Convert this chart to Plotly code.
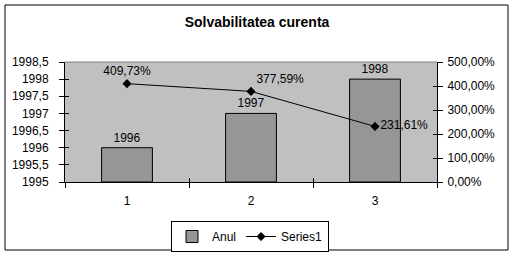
import plotly.graph_objects as go

categories = ["1", "2", "3"]
anul = [1996, 1997, 1998]
series1 = [4.0973, 3.7759, 2.3161]
left_ticks = [1995, 1995.5, 1996, 1996.5, 1997, 1997.5, 1998, 1998.5]
right_ticks = [0, 1, 2, 3, 4, 5]

W, H = 514, 255
L, R, T, B = 65, 437, 62, 182

font = "Liberation Sans, Arial, sans-serif"

fig = go.Figure()
fig.add_trace(go.Bar(
    x=categories, y=[a - 1995 for a in anul], base=1995, name="Anul",
    marker=dict(color="#969696", line=dict(color="black", width=1)),
    width=0.41, text=[str(a) for a in anul], textposition="outside",
    textfont=dict(color="black", size=12, family=font), cliponaxis=False,
))
fig.add_trace(go.Scatter(
    x=categories, y=series1, name="Series1", yaxis="y2",
    mode="lines+markers+text",
    line=dict(color="black", width=1),
    marker=dict(symbol="diamond", size=7, color="black"),
    texttemplate="%{y:.2%}", textposition=["top center", "top right", "middle right"],
    textfont=dict(color="black", size=12, family=font), cliponaxis=False,
))

pw, ph = R - L, B - T
def px(x):
    return (x - L) / pw
def py(y):
    return (B - y) / ph

fig.update_layout(
    width=W, height=H,
    margin=dict(l=L, r=W - R, t=T, b=H - B, autoexpand=False),
    paper_bgcolor="white", plot_bgcolor="#C0C0C0",
    separators=",.",
    font=dict(family=font, size=12, color="black"),
    title=dict(text="<b>Solvabilitatea curenta</b>", x=0.5, xanchor="center",
               y=1 - 22 / H, yanchor="middle", font=dict(size=14, family=font)),
    showlegend=True,
    legend=dict(orientation="h", x=(250 - L) / pw, xanchor="center",
                y=py(221), yanchor="top", bordercolor="black", borderwidth=1,
                font=dict(size=12, family=font), itemwidth=30,
                tracegroupgap=0),
    xaxis=dict(type="category", tickson="boundaries", ticks="outside", ticklen=5,
               tickcolor="black", showline=True, linecolor="black", linewidth=1,
               showgrid=False, zeroline=False, ticklabelstandoff=8,
               tickfont=dict(size=12)),
    yaxis=dict(range=[1995, 1998.5], tickvals=left_ticks, tickformat=".1~f",
               ticks="outside", ticklen=5,
               tickcolor="black", showline=True, linecolor="black", showgrid=False,
               zeroline=False, ticklabelstandoff=8, tickfont=dict(size=12)),
    yaxis2=dict(range=[0, 5], tickvals=right_ticks, tickformat=".2%", overlaying="y",
                side="right", ticks="outside", ticklen=5, tickcolor="black",
                showline=True, linecolor="black", showgrid=False, zeroline=False,
                ticklabelstandoff=2, tickfont=dict(size=12)),
    # inside halves of the crossing tick marks
    xaxis2=dict(range=[-0.5, 2.5], tick0=-0.5, dtick=1, overlaying="x", ticks="inside",
                ticklen=4, tickcolor="black", showticklabels=False, showgrid=False,
                zeroline=False, showline=False, side="bottom"),
    yaxis3=dict(range=[1995, 1998.5], tickvals=left_ticks, overlaying="y", ticks="inside",
                ticklen=4, tickcolor="black", showticklabels=False, showgrid=False,
                zeroline=False, showline=False),
    yaxis4=dict(range=[0, 5], tickvals=right_ticks, overlaying="y", side="right",
                ticks="inside", ticklen=4, tickcolor="black", showticklabels=False,
                showgrid=False, zeroline=False, showline=False),
    shapes=[
        dict(type="rect", xref="paper", yref="paper", x0=px(5), x1=px(508),
             y0=py(250), y1=py(5), line=dict(color="black", width=1), layer="below"),
        dict(type="line", xref="paper", yref="paper", x0=0, x1=1, y0=1, y1=1,
             line=dict(color="#808080", width=1)),
    ],
)

# invisible traces so the overlay axes get drawn
fig.add_trace(go.Scatter(x=[0], y=[1995], xaxis="x2", yaxis="y3", mode="markers",
                         marker=dict(opacity=0), showlegend=False, hoverinfo="skip"))
fig.add_trace(go.Scatter(x=[0], y=[0], xaxis="x2", yaxis="y4", mode="markers",
                         marker=dict(opacity=0), showlegend=False, hoverinfo="skip"))

fig.write_html("out.html")
